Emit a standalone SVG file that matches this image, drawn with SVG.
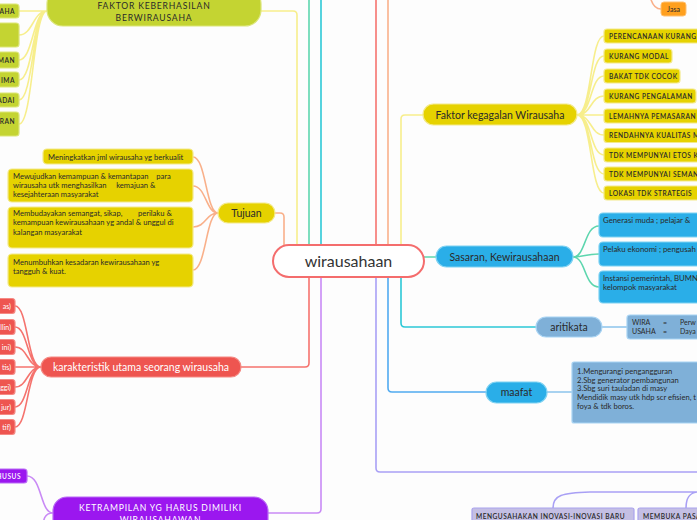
<svg xmlns="http://www.w3.org/2000/svg" width="697" height="520" viewBox="0 0 697 520">
<style>
text{font-family:Lato,"Noto Sans","DejaVu Sans",sans-serif;fill:#2a2a2a;white-space:pre}
.c{fill:none;stroke-width:1.6;stroke-linecap:round}
.cy{stroke:#f7ee8c}.cp{stroke:#f9b08a}.cr{stroke:#f5736e}.cu{stroke:#c98af5}
.ct{stroke:#5dd6ae}.cc{stroke:#2cc8d6}.cb{stroke:#50aaf0}.cl{stroke:#a9a0f5}.cs{stroke:#8cc4ec}
.main{font-size:10.5px;text-anchor:middle}
.cap{font-size:8.6px;letter-spacing:.8px;text-anchor:middle}
.sm{font-size:7px}
.tj{font-size:7.6px}
.bl{font-size:7.8px}
.up{font-size:6.6px;letter-spacing:.5px;font-weight:600}
.w{fill:#fff}
.ylw{fill:#e6d200;stroke:#f3e98a;stroke-width:1.2}
.lime{fill:#c4d432;stroke:#dbe577;stroke-width:1.2}
.red{fill:#ee5550;stroke:#f58a84;stroke-width:1.2}
.pur{fill:#9b17ef;stroke:#b96af5;stroke-width:1.2}
.blu{fill:#2aaee8;stroke:#7fd2f2;stroke-width:1.2}
.stl{fill:#7fb0d8;stroke:#a8d4f4;stroke-width:1.2}
.lav{fill:#c4bfe4;stroke:#aaa3ee;stroke-width:1.2}
</style>
<rect width="697" height="520" fill="#fdfdfd"/>
<g id="connectors">
<path class="c cy" d="M261,11 H293 Q297,11 297,15 V245"/>
<path class="c cp" d="M275,213 H280 Q284,213 284,217 V245"/>
<path class="c ct" d="M309,245 V0"/>
<path class="c cc" d="M321,245 V0"/>
<path class="c cr" d="M376,245 V0"/>
<path class="c cp" d="M388,245 V0"/>
<path class="c cy" d="M423,115 H405 Q401,115 401,119 V245"/>
<path class="c cr" d="M241,367 H305 Q309,367 309,363 V277"/>
<path class="c cu" d="M268,513 H317 Q321,513 321,509 V277"/>
<path class="c cl" d="M376,277 V468 Q376,472 380,472 H697"/>
<path class="c cb" d="M388,277 V388 Q388,392 392,392 H486"/>
<path class="c cc" d="M401,277 V323 Q401,327 405,327 H536"/>
<path class="c ct" d="M424,257 H436"/>
<path class="c cy" d="M47,11 H19 M47,11 C33,11 33,35 19,35 M47,11 C33,11 33,60 19,60 M47,11 C33,11 33,80 19,80 M47,11 C33,11 33,100 19,100 M47,11 C33,11 33,124 19,124"/>
<path class="c cp" d="M218,213 C206,213 206,157 193,157 M218,213 C206,213 206,186 193,186 M218,213 C206,213 206,227 193,227 M218,213 C206,213 206,270 193,270"/>
<path class="c cr" d="M41,367 C27,367 28,306 15,306 M41,367 C27,367 28,327 15,327 M41,367 C27,367 28,347 15,347 M41,367 H15 M41,367 C27,367 28,387 15,387 M41,367 C27,367 28,407 15,407 M41,367 C27,367 28,427 15,427"/>
<path class="c cu" d="M53,513 C40,513 42,476 27,476 M53,513 C44,513 43,520 43,530"/>
<path class="c cy" d="M577,115 C592,115 590,36 604,36 M577,115 C592,115 590,56 604,56 M577,115 C592,115 590,76 604,76 M577,115 C592,115 590,96 604,96 M577,115 H604 M577,115 C592,115 590,135 604,135 M577,115 C592,115 590,155 604,155 M577,115 C592,115 590,174 604,174 M577,115 C592,115 590,193 604,193"/>
<path class="c ct" d="M573,257 C586,257 584,226 599,226 M573,257 C586,257 584,254 599,254 M573,257 C586,257 584,287 599,287"/>
<path class="c cp" d="M650,-4 C652,5 655,9 661,9"/>
<path class="c cs" d="M602,327 H627 M547,392 H572"/>
<path class="c cl" d="M553,508 C553,495 562,493 590,492 H697 M686,508 C686,497 690,493 697,492"/>
</g>
<g id="center">
<rect x="273" y="245" width="151" height="32" rx="16" fill="#fff" stroke="#f46d6d" stroke-width="2"/>
<text x="348.5" y="267" style="font-size:16px;text-anchor:middle;fill:#333">wirausahaan</text>
</g>
<g id="faktor-keberhasilan">
<rect class="lime" x="47" y="-12" width="214" height="38" rx="16"/>
<text class="cap" x="154" y="9">FAKTOR KEBERHASILAN</text>
<text class="cap" x="154" y="20.5">BERWIRAUSAHA</text>
</g>
<g id="keberhasilan-items">
<rect class="lime" x="-20" y="4" width="39" height="14" rx="3"/>
<text class="up" x="15" y="14" text-anchor="end">AHA</text>
<rect class="lime" x="-20" y="23" width="39" height="24" rx="3"/>
<rect class="lime" x="-20" y="52" width="39" height="16" rx="3"/>
<text class="up" x="15" y="63" text-anchor="end">MAN</text>
<rect class="lime" x="-20" y="72" width="39" height="15" rx="3"/>
<text class="up" x="15" y="82.5" text-anchor="end">IMA</text>
<rect class="lime" x="-20" y="93" width="39" height="14" rx="3"/>
<text class="up" x="15" y="102.5" text-anchor="end">ADAI</text>
<rect class="lime" x="-20" y="112" width="39" height="24" rx="3"/>
<text class="up" x="15" y="123.5" text-anchor="end">RAN</text>
</g>
<g id="tujuan">
<rect class="ylw" x="218" y="203" width="57" height="20" rx="10"/>
<text class="main" x="246.5" y="216.8">Tujuan</text>
</g>
<g id="tujuan-items">
<rect class="ylw" x="43" y="149" width="150" height="15" rx="4"/>
<text class="tj" x="48" y="159.5">Meningkatkan jml wirausaha yg berkualit</text>
<rect class="ylw" x="8" y="169" width="185" height="33" rx="4"/>
<text class="tj" x="13" y="178.5">Mewujudkan kemampuan &amp; kemantapan    para</text>
<text class="tj" x="13" y="188">wirausaha utk menghasilkan     kemajuan &amp;</text>
<text class="tj" x="13" y="197">kesejahteraan masyarakat</text>
<rect class="ylw" x="8" y="207" width="185" height="41" rx="4"/>
<text class="tj" x="13" y="215.5">Membudayakan semangat, sikap,        perilaku &amp;</text>
<text class="tj" x="13" y="225">kemampuan kewirausahaan yg andal &amp; unggul di</text>
<text class="tj" x="13" y="235">kalangan masyarakat</text>
<rect class="ylw" x="8" y="254" width="185" height="33" rx="4"/>
<text class="tj" x="13" y="264.5">Menumbuhkan kesadaran kewirausahaan yg</text>
<text class="tj" x="13" y="274">tangguh &amp; kuat.</text>
</g>
<g id="karakteristik">
<rect class="red" x="41" y="357" width="200" height="20" rx="10"/>
<text class="main w" x="141" y="370.5">karakteristik utama seorang wirausaha</text>
</g>
<g id="karakteristik-items">
<rect class="red" x="-20" y="298.5" width="35" height="15" rx="3"/>
<text class="sm w" x="11" y="308.5" text-anchor="end">as)</text>
<rect class="red" x="-20" y="319.5" width="35" height="15" rx="3"/>
<text class="sm w" x="11" y="329.5" text-anchor="end">llin)</text>
<rect class="red" x="-20" y="339.5" width="35" height="15" rx="3"/>
<text class="sm w" x="11" y="349.5" text-anchor="end">ini)</text>
<rect class="red" x="-20" y="359.5" width="35" height="15" rx="3"/>
<text class="sm w" x="11" y="369.5" text-anchor="end">tis)</text>
<rect class="red" x="-20" y="379.5" width="35" height="15" rx="3"/>
<text class="sm w" x="11" y="389.5" text-anchor="end">ggi)</text>
<rect class="red" x="-20" y="399.5" width="35" height="15" rx="3"/>
<text class="sm w" x="11" y="409.5" text-anchor="end">jur)</text>
<rect class="red" x="-20" y="419.5" width="35" height="15" rx="3"/>
<text class="sm w" x="11" y="429.5" text-anchor="end">tif)</text>
</g>
<g id="ketrampilan">
<rect class="pur" x="53" y="497" width="215" height="42" rx="14"/>
<text class="cap w" x="160.5" y="511">KETRAMPILAN YG HARUS DIMILIKI</text>
<text class="cap w" x="160.5" y="523">WIRAUSAHAWAN</text>
</g>
<g id="ketrampilan-items">
<rect class="pur" x="-20" y="469" width="47" height="14" rx="3"/>
<text class="up w" x="21" y="479" text-anchor="end">HUSUS</text>
</g>
<g id="faktor-kegagalan">
<rect class="ylw" x="423" y="104" width="154" height="21" rx="10.5"/>
<text class="main" x="500" y="118.5">Faktor kegagalan Wirausaha</text>
</g>
<g id="kegagalan-items">
<rect class="ylw" x="604" y="29" width="100" height="14" rx="3"/>
<text class="up" x="609" y="38.5">PERENCANAAN KURANG</text>
<rect class="ylw" x="604" y="49" width="68" height="14" rx="3"/>
<text class="up" x="609" y="58.5">KURANG MODAL</text>
<rect class="ylw" x="604" y="69" width="76" height="14" rx="3"/>
<text class="up" x="609" y="78.5">BAKAT TDK COCOK</text>
<rect class="ylw" x="604" y="89" width="92" height="14" rx="3"/>
<text class="up" x="609" y="98.5">KURANG PENGALAMAN</text>
<rect class="ylw" x="604" y="109" width="100" height="14" rx="3"/>
<text class="up" x="609" y="118.5">LEMAHNYA PEMASARAN</text>
<rect class="ylw" x="604" y="128.5" width="100" height="14" rx="3"/>
<text class="up" x="609" y="138">RENDAHNYA KUALITAS M</text>
<rect class="ylw" x="604" y="148" width="100" height="14" rx="3"/>
<text class="up" x="609" y="157.5">TDK MEMPUNYAI ETOS KE</text>
<rect class="ylw" x="604" y="167" width="100" height="14" rx="3"/>
<text class="up" x="609" y="176.5">TDK MEMPUNYAI SEMANG</text>
<rect class="ylw" x="604" y="186" width="100" height="14" rx="3"/>
<text class="up" x="609" y="195.5">LOKASI TDK STRATEGIS</text>
</g>
<g id="jasa">
<rect x="661" y="2" width="25" height="14" rx="3" fill="#ffa01e" stroke="#ffc070" stroke-width="1"/>
<text class="sm" x="673.5" y="11.5" text-anchor="middle">Jasa</text>
</g>
<g id="sasaran">
<rect class="blu" x="436" y="246" width="137" height="21" rx="10.5"/>
<text class="main" x="504.5" y="260.5">Sasaran, Kewirausahaan</text>
</g>
<g id="sasaran-items">
<rect class="blu" x="599" y="213" width="110" height="24" rx="4"/>
<text class="bl" x="603" y="222.8">Generasi muda ; pelajar &amp;</text>
<rect class="blu" x="599" y="242" width="110" height="24" rx="4"/>
<text class="bl" x="603" y="251.8">Pelaku ekonomi ; pengusah</text>
<rect class="blu" x="599" y="271" width="110" height="32" rx="4"/>
<text class="bl" x="603" y="280.8">Instansi pemerintah, BUMN</text>
<text class="bl" x="603" y="290.3">kelompok masyarakat</text>
</g>
<g id="aritikata">
<rect class="stl" x="536" y="317" width="66" height="20" rx="10"/>
<text class="main" x="569" y="330.5">aritikata</text>
</g>
<g id="aritikata-item">
<rect class="stl" x="627" y="315" width="80" height="24" rx="3"/>
<text class="sm" x="632" y="324.5">WIRA</text><text class="sm" x="663" y="324.5">=</text><text class="sm" x="680" y="324.5">Perw</text>
<text class="sm" x="632" y="334">USAHA</text><text class="sm" x="663" y="334">=</text><text class="sm" x="680" y="334">Daya</text>
</g>
<g id="maafat">
<rect class="blu" x="486" y="382" width="61" height="21" rx="10.5"/>
<text class="main" x="516.5" y="396">maafat</text>
</g>
<g id="maafat-item">
<rect class="stl" x="572" y="362" width="130" height="61" rx="2"/>
<text class="tj" x="577" y="373.8">1.Mengurangi pengangguran</text>
<text class="tj" x="577" y="382.5">2.Sbg generator pembangunan</text>
<text class="tj" x="577" y="391.3">3.Sbg suri tauladan di masy</text>
<text class="tj" x="577" y="400.2">Mendidik masy utk hdp scr efisien, t</text>
<text class="tj" x="577" y="409">foya &amp; tdk boros.</text>
</g>
<g id="lavender-items">
<rect class="lav" x="472" y="508" width="162" height="20" rx="2"/>
<text class="up" x="476" y="518.5">MENGUSAHAKAN INOVASI-INOVASI BARU</text>
<rect class="lav" x="638" y="508" width="70" height="20" rx="2"/>
<text class="up" x="643" y="518.5">MEMBUKA PASA</text>
</g>
</svg>
